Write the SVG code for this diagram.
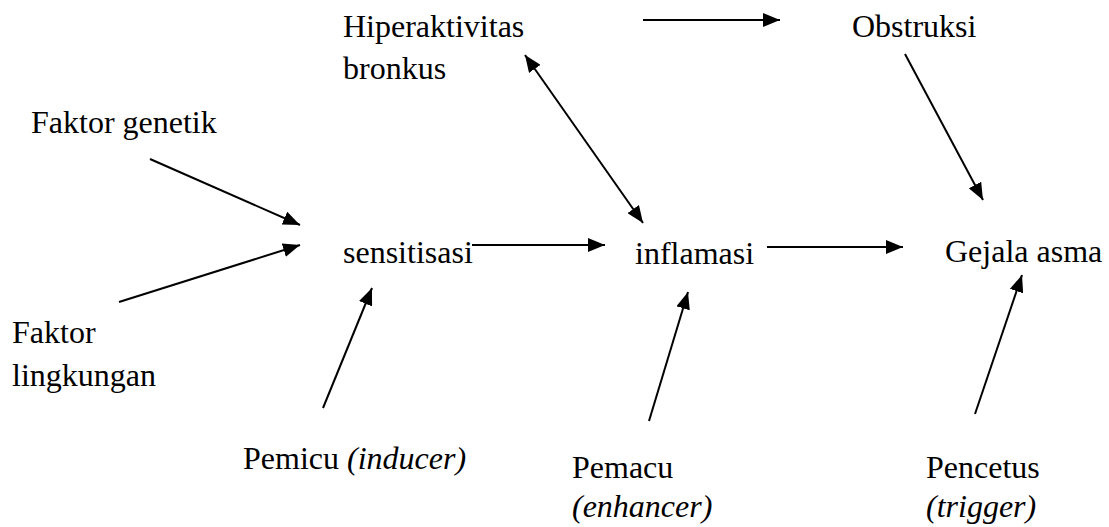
<svg xmlns="http://www.w3.org/2000/svg" width="1109" height="527" viewBox="0 0 1109 527">
<style>
text{font-family:"Liberation Serif","Times New Roman",serif;font-size:32px;fill:#000}
.i{font-style:italic}
.c{stroke:#000;stroke-width:2;fill:none}
</style>
<defs>
<marker id="ah" markerUnits="userSpaceOnUse" markerWidth="18" markerHeight="14" refX="17" refY="7" orient="auto-start-reverse">
<path d="M0,0 L17,7 L0,14 z" fill="#000"/>
</marker>
</defs>
<rect width="1109" height="527" fill="#fff"/>
<g id="connectors">
<line class="c" x1="150" y1="159" x2="300" y2="225" marker-end="url(#ah)"/>
<line class="c" x1="119" y1="302" x2="300" y2="245" marker-end="url(#ah)"/>
<line class="c" x1="472" y1="245" x2="605" y2="245" marker-end="url(#ah)"/>
<line class="c" x1="767" y1="247" x2="903" y2="247" marker-end="url(#ah)"/>
<line class="c" x1="643" y1="20" x2="780" y2="20" marker-end="url(#ah)"/>
<line class="c" x1="525" y1="55" x2="643" y2="223" marker-start="url(#ah)" marker-end="url(#ah)"/>
<line class="c" x1="905" y1="54" x2="983" y2="200" marker-end="url(#ah)"/>
<line class="c" x1="323" y1="408" x2="372" y2="288" marker-end="url(#ah)"/>
<line class="c" x1="649" y1="421" x2="688" y2="292" marker-end="url(#ah)"/>
<line class="c" x1="975" y1="414" x2="1022" y2="275" marker-end="url(#ah)"/>
</g>
<g id="hiperaktivitas"><text x="343" y="37">Hiperaktivitas</text><text x="343" y="79">bronkus</text></g>
<g id="obstruksi"><text x="852" y="37">Obstruksi</text></g>
<g id="faktor-genetik"><text x="31" y="133">Faktor genetik</text></g>
<g id="faktor-lingkungan"><text x="12" y="343">Faktor</text><text x="12" y="386">lingkungan</text></g>
<g id="sensitisasi"><text x="343" y="263">sensitisasi</text></g>
<g id="inflamasi"><text x="635" y="264">inflamasi</text></g>
<g id="gejala-asma"><text x="945" y="262">Gejala asma</text></g>
<g id="pemicu"><text x="243" y="469">Pemicu <tspan class="i">(inducer)</tspan></text></g>
<g id="pemacu"><text x="572" y="478">Pemacu</text><text class="i" x="572" y="517">(enhancer)</text></g>
<g id="pencetus"><text x="926" y="478">Pencetus</text><text class="i" x="926" y="517">(trigger)</text></g>
</svg>
